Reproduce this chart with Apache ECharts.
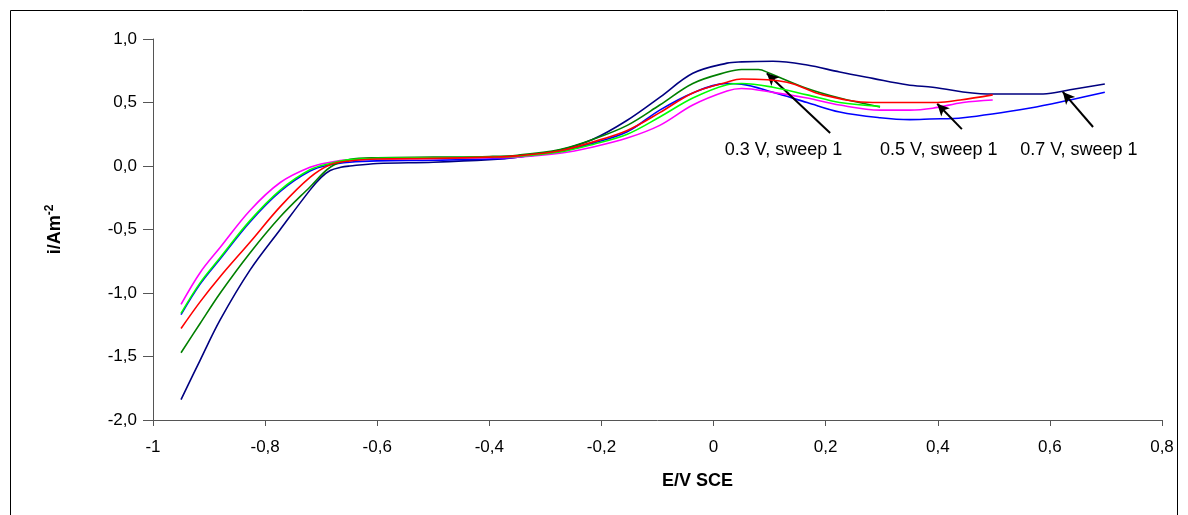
<!DOCTYPE html>
<html>
<head>
<meta charset="utf-8">
<script src="https://cdn.jsdelivr.net/npm/echarts@6/dist/echarts.min.js"></script>
<style>html,body{margin:0;padding:0;background:#fff}#c{width:1188px;height:515px}</style>
</head>
<body>
<div id="c"></div>
<script>
// Tick labels
const xTicks = [-1, -0.8, -0.6, -0.4, -0.2, 0, 0.2, 0.4, 0.6, 0.8];
const yTicks = [-2.0, -1.5, -1.0, -0.5, 0.0, 0.5, 1.0];

// Series data [E (V SCE), i (A m^-2)]
const navy_07V_s1 = [[-0.95,-1.84],[-0.916,-1.53],[-0.88,-1.21],[-0.827,-0.82],[-0.773,-0.50],[-0.72,-0.19],[-0.70,-0.09],[-0.684,-0.035],[-0.665,-0.01],[-0.649,0.0],[-0.6,0.02],[-0.5,0.03],[-0.4,0.05],[-0.35,0.07],[-0.274,0.125],[-0.215,0.21],[-0.154,0.36],[-0.096,0.54],[-0.037,0.73],[0.024,0.81],[0.05,0.82],[0.106,0.825],[0.167,0.795],[0.225,0.74],[0.284,0.69],[0.345,0.64],[0.391,0.62],[0.488,0.567],[0.588,0.567],[0.636,0.60],[0.698,0.646]];
const blue_07V_s2 = [[-0.95,-1.17],[-0.916,-0.93],[-0.88,-0.73],[-0.827,-0.44],[-0.773,-0.20],[-0.72,-0.04],[-0.684,0.01],[-0.649,0.03],[-0.6,0.04],[-0.5,0.045],[-0.4,0.055],[-0.35,0.07],[-0.274,0.115],[-0.215,0.18],[-0.154,0.27],[-0.096,0.44],[-0.037,0.575],[0.024,0.65],[0.05,0.645],[0.106,0.58],[0.167,0.50],[0.225,0.425],[0.297,0.38],[0.35,0.365],[0.386,0.37],[0.445,0.38],[0.565,0.457],[0.636,0.52],[0.698,0.58]];
const green_03V_s1 = [[-0.95,-1.47],[-0.916,-1.24],[-0.88,-1.0],[-0.827,-0.685],[-0.773,-0.40],[-0.72,-0.165],[-0.684,-0.01],[-0.649,0.05],[-0.6,0.065],[-0.5,0.07],[-0.4,0.075],[-0.35,0.085],[-0.274,0.13],[-0.215,0.21],[-0.154,0.32],[-0.096,0.48],[-0.037,0.65],[0.024,0.74],[0.05,0.76],[0.08,0.76],[0.1,0.73],[0.167,0.61],[0.225,0.535],[0.297,0.465]];
const lime_03V_s2 = [[-0.95,-1.16],[-0.916,-0.92],[-0.88,-0.72],[-0.827,-0.43],[-0.773,-0.19],[-0.72,-0.03],[-0.684,0.02],[-0.649,0.05],[-0.6,0.06],[-0.5,0.065],[-0.4,0.07],[-0.35,0.075],[-0.274,0.11],[-0.215,0.17],[-0.154,0.25],[-0.096,0.386],[-0.037,0.535],[0.024,0.64],[0.05,0.65],[0.106,0.62],[0.167,0.56],[0.225,0.50],[0.297,0.47]];
const red_05V_s1 = [[-0.95,-1.28],[-0.916,-1.07],[-0.88,-0.87],[-0.827,-0.60],[-0.773,-0.32],[-0.72,-0.09],[-0.684,0.01],[-0.649,0.04],[-0.6,0.055],[-0.5,0.06],[-0.4,0.07],[-0.35,0.08],[-0.274,0.12],[-0.215,0.19],[-0.154,0.28],[-0.096,0.42],[-0.037,0.575],[0.024,0.66],[0.05,0.685],[0.131,0.66],[0.195,0.56],[0.284,0.50],[0.345,0.50],[0.4,0.50],[0.44,0.52],[0.498,0.56]];
const magenta_05V_s2 = [[-0.95,-1.09],[-0.916,-0.84],[-0.88,-0.64],[-0.827,-0.35],[-0.773,-0.13],[-0.72,-0.01],[-0.684,0.03],[-0.649,0.05],[-0.6,0.055],[-0.5,0.06],[-0.4,0.065],[-0.35,0.07],[-0.274,0.10],[-0.215,0.15],[-0.154,0.22],[-0.096,0.32],[-0.037,0.48],[0.024,0.59],[0.05,0.61],[0.106,0.58],[0.167,0.535],[0.225,0.48],[0.297,0.44],[0.35,0.44],[0.391,0.455],[0.445,0.50],[0.498,0.52]];

// Annotations: text anchor (left, middle) and arrow tail -> head, in data units
const annoTexts = ['0.3 V, sweep 1', '0.5 V, sweep 1', '0.7 V, sweep 1'];
const annoTextPos = [[0.02, 0.126], [0.297, 0.126], [0.547, 0.126]];
const annoArrowTail = [[0.208, 0.26], [0.443, 0.29], [0.677, 0.307]];
const annoArrowHead = [[0.095, 0.73], [0.399, 0.49], [0.623, 0.583]];

const FONT = '"Liberation Sans", Arial, sans-serif';
const chart = echarts.init(document.getElementById('c'), null, {renderer: 'canvas'});

function fmtX(v) { return String(Number(v.toFixed(1))).replace('.', ','); }
function fmtY(v) { return v.toFixed(1).replace('.', ','); }

function line(name, data, color, z) {
  return {
    name, type: 'line', data, showSymbol: false, smooth: 0.35, z: z,
    lineStyle: {color, width: 1.6}, itemStyle: {color}, animation: false
  };
}

const series = [
  line('0.7 V, sweep 1', navy_07V_s1, '#000080', 2),
  line('0.7 V, sweep 2', blue_07V_s2, '#0000ff', 3),
  line('0.3 V, sweep 1', green_03V_s1, '#008000', 4),
  line('0.3 V, sweep 2', lime_03V_s2, '#00ff00', 5),
  line('0.5 V, sweep 1', red_05V_s1, '#ff0000', 6),
  line('0.5 V, sweep 2', magenta_05V_s2, '#ff00ff', 3),
];
series[0].markLine = {
  silent: true, animation: false,
  symbol: ['none', 'arrow'], symbolSize: [9, 12],
  lineStyle: {color: '#000', width: 2, type: 'solid'},
  label: {show: false},
  data: annoArrowTail.map((t, i) => [{coord: t}, {coord: annoArrowHead[i]}])
};

chart.setOption({
  backgroundColor: '#fff',
  animation: false,
  grid: {left: 153, right: 26, top: 39, bottom: 95},
  xAxis: {
    type: 'value', min: xTicks[0], max: xTicks[xTicks.length - 1], interval: 0.2,
    name: 'E/V SCE', nameLocation: 'middle', nameGap: 52,
    nameTextStyle: {fontFamily: FONT, fontWeight: 'bold', fontSize: 18, color: '#000', padding: [0, 0, 0, 80]},
    axisLine: {onZero: false, lineStyle: {color: '#555', width: 1}},
    axisTick: {show: true, length: 6, lineStyle: {color: '#555'}},
    axisLabel: {formatter: fmtX, fontFamily: FONT, fontSize: 17, color: '#000', margin: 19},
    splitLine: {show: false}
  },
  yAxis: {
    type: 'value', min: yTicks[0], max: yTicks[yTicks.length - 1], interval: 0.5,
    name: '{a|i/Am}{b|-2}', nameLocation: 'middle', nameGap: 86,
    nameTextStyle: {
      fontFamily: FONT, fontWeight: 'bold', fontSize: 18, color: '#000',
      rich: {
        a: {fontFamily: FONT, fontWeight: 'bold', fontSize: 18, color: '#000'},
        b: {fontFamily: FONT, fontWeight: 'bold', fontSize: 12, color: '#000', verticalAlign: 'bottom', padding: [0, 0, 11, 0]}
      }
    },
    axisLine: {show: true, onZero: false, lineStyle: {color: '#555', width: 1}},
    axisTick: {show: true, inside: false, length: 10, lineStyle: {color: '#555'}},
    axisLabel: {formatter: fmtY, fontFamily: FONT, fontSize: 17, color: '#000', margin: 16},
    splitLine: {show: false}
  },
  series
});

const gr = [{
  type: 'rect', shape: {x: 10.5, y: 10.5, width: 1167, height: 520},
  style: {fill: 'none', stroke: '#000', lineWidth: 1}, silent: true, z: -1
}];
annoTexts.forEach((t, i) => {
  const p = chart.convertToPixel({gridIndex: 0}, annoTextPos[i]);
  gr.push({
    type: 'text', x: p[0], y: p[1], silent: true, z: 10,
    style: {text: t, fontFamily: FONT, fontSize: 18, fill: '#000', textAlign: 'left', textVerticalAlign: 'middle'}
  });
});
chart.setOption({graphic: gr});
</script>
</body>
</html>
